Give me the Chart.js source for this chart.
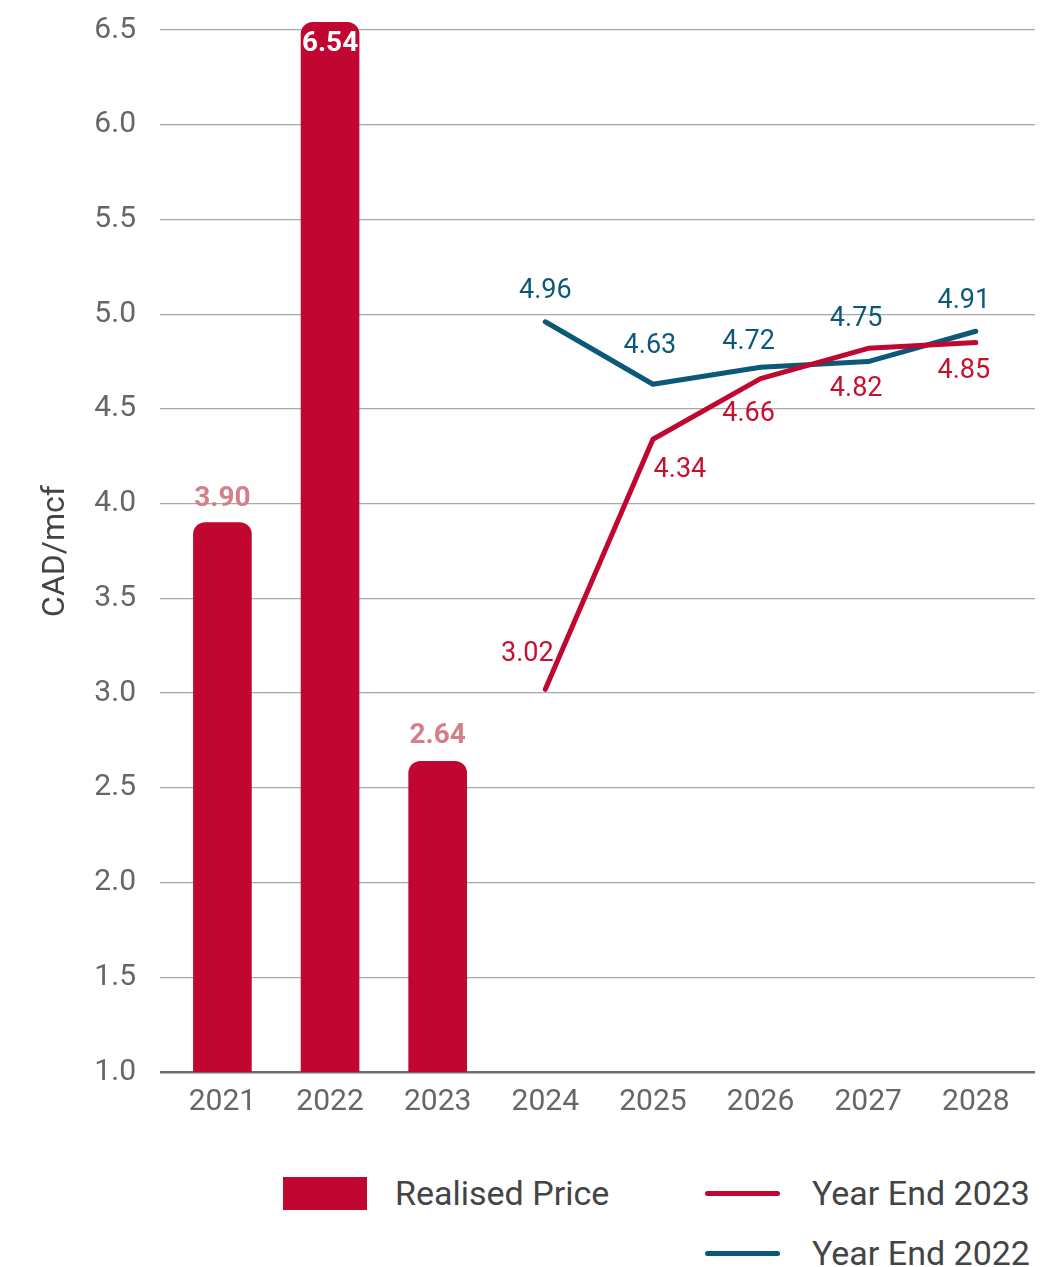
<!DOCTYPE html>
<html>
<head>
<meta charset="utf-8">
<script src="https://cdn.jsdelivr.net/npm/chart.js@4/dist/chart.umd.min.js"></script>
<style>
  body { margin: 0; background: #fff; font-family: Roboto, 'DejaVu Sans Condensed', sans-serif; }
  #wrap { position: relative; width: 1060px; height: 1267px; overflow: hidden; }
  #chart { position: absolute; left: 0; top: 0; }
  .legend-item { position: absolute; display: flex; align-items: center; color: #444; font-size: 34px; white-space: nowrap; }
  .swatch-box { width: 84px; height: 33px; margin-right: 28px; }
  .swatch-line { width: 75px; height: 5px; border-radius: 3px; margin-right: 32px; }
</style>
</head>
<body>
<div id="wrap">
  <canvas id="chart" width="1060" height="1135"></canvas>
  <div id="legend"></div>
</div>
<script>
// ── Data ─────────────────────────────────────────────────────────────────────
const years         = ['2021', '2022', '2023', '2024', '2025', '2026', '2027', '2028'];
const realisedPrice = [3.90, 6.54, 2.64, null, null, null, null, null];
const yearEnd2023   = [null, null, null, 3.02, 4.34, 4.66, 4.82, 4.85];
const yearEnd2022   = [null, null, null, 4.96, 4.63, 4.72, 4.75, 4.91];
const yTicks        = [1.0, 1.5, 2.0, 2.5, 3.0, 3.5, 4.0, 4.5, 5.0, 5.5, 6.0, 6.5];

const RED  = '#c10631';
const TEAL = '#0c5878';
const FONT = "Roboto, 'DejaVu Sans Condensed', sans-serif";

// turn a value list into {x, y} points on the index axis, skipping gaps
function toPoints(values) {
  return values.map((v, i) => (v == null ? null : { x: i, y: v })).filter(Boolean);
}

// ── Value labels ─────────────────────────────────────────────────────────────
const valueLabels = {
  id: 'valueLabels',
  afterDatasetsDraw(chart) {
    const ctx = chart.ctx;
    chart.data.datasets.forEach((ds, di) => {
      const meta = chart.getDatasetMeta(di);
      const cfg = ds.valueLabel;
      if (!cfg) return;
      meta.data.forEach((el, i) => {
        const raw = ds.data[i].y;
        const off = cfg.offsets[i] || [0, 0];
        ctx.save();
        ctx.font = `${cfg.weight} ${cfg.size}px ${FONT}`;
        ctx.fillStyle = Array.isArray(cfg.color) ? cfg.color[i] : cfg.color;
        ctx.textAlign = 'center';
        ctx.textBaseline = 'middle';
        ctx.fillText(raw.toFixed(2), el.x + off[0], el.y + off[1]);
        ctx.restore();
      });
    });
  },
};

// ── Chart ────────────────────────────────────────────────────────────────────
const chart = new Chart(document.getElementById('chart'), {
  type: 'bar',
  data: {
    datasets: [
      {
        type: 'bar',
        label: 'Realised Price',
        data: toPoints(realisedPrice),
        backgroundColor: RED,
        barThickness: 58,
        borderRadius: 12,
        clip: { left: 0, top: false, right: 0, bottom: 0 },
        valueLabel: {
          weight: 'bold', size: 28,
          color: ['#d47f8a', '#ffffff', '#d47f8a'],
          offsets: [[0, -24], [0, 22], [0, -25]],
        },
      },
      {
        type: 'line',
        label: 'Year End 2023',
        data: toPoints(yearEnd2023),
        borderColor: RED,
        borderWidth: 5,
        pointRadius: 0,
        borderCapStyle: 'round',
        borderJoinStyle: 'round',
        valueLabel: {
          weight: 'normal', size: 27, color: '#c8102e',
          offsets: [[-18, -35], [27, 31], [-12, 36], [-12, 41], [-12, 29]],
        },
      },
      {
        type: 'line',
        label: 'Year End 2022',
        data: toPoints(yearEnd2022),
        borderColor: TEAL,
        borderWidth: 5,
        pointRadius: 0,
        borderCapStyle: 'round',
        borderJoinStyle: 'round',
        valueLabel: {
          weight: 'normal', size: 27, color: TEAL,
          offsets: [[0, -31], [-3, -38], [-12, -25], [-12, -42], [-12, -30]],
        },
      },
    ],
  },
  options: {
    responsive: false,
    animation: false,
    layout: { padding: { top: 30, right: 25, left: 0, bottom: 0 } },
    plugins: {
      legend: { display: false },
      tooltip: { enabled: false },
    },
    scales: {
      x: {
        type: 'linear',
        offset: false,
        min: -0.58,
        max: 7.55,
        grid: { display: false },
        border: { display: false },
        afterBuildTicks: scale => { scale.ticks = years.map((_, i) => ({ value: i })); },
        afterFit: scale => {
          scale.height = 63;
          scale.paddingLeft = 0;
          scale.paddingRight = 0;
        },
        ticks: {
          autoSkip: false,
          maxRotation: 0,
          padding: 4,
          color: '#666',
          font: { family: FONT, size: 30 },
          callback: v => years[v],
        },
      },
      y: {
        min: yTicks[0],
        max: yTicks[yTicks.length - 1],
        afterBuildTicks: scale => { scale.ticks = yTicks.map(v => ({ value: v })); },
        afterFit: scale => {
          scale.width = 160;
          scale.paddingTop = 0;
          scale.paddingBottom = 0;
        },
        border: { display: false },
        grid: {
          drawTicks: false,
          color: c => (c.tick && c.tick.value === yTicks[0] ? '#6e6e6e' : '#a8a8a8'),
          lineWidth: c => (c.tick && c.tick.value === yTicks[0] ? 2.5 : 1.2),
        },
        ticks: {
          padding: 24,
          color: '#666',
          font: { family: FONT, size: 30 },
          callback: v => v.toFixed(1),
        },
        title: {
          display: true,
          text: 'CAD/mcf',
          color: '#444',
          font: { family: FONT, size: 32 },
          padding: { top: 37, bottom: 0 },
        },
      },
    },
  },
  plugins: [valueLabels],
});

// ── Legend (two columns under the plot) ──────────────────────────────────────
const legendSpots = [
  { left: 283, top: 1173, box: true },
  { left: 705, top: 1173, box: false },
  { left: 705, top: 1233, box: false },
];
const legendEl = document.getElementById('legend');
chart.data.datasets.forEach((ds, i) => {
  const spot = legendSpots[i];
  const item = document.createElement('div');
  item.className = 'legend-item';
  item.style.left = spot.left + 'px';
  item.style.top = spot.top + 'px';
  const sw = document.createElement('span');
  sw.className = spot.box ? 'swatch-box' : 'swatch-line';
  sw.style.background = spot.box ? ds.backgroundColor : ds.borderColor;
  const txt = document.createElement('span');
  txt.textContent = ds.label;
  item.appendChild(sw);
  item.appendChild(txt);
  legendEl.appendChild(item);
});
</script>
</body>
</html>
